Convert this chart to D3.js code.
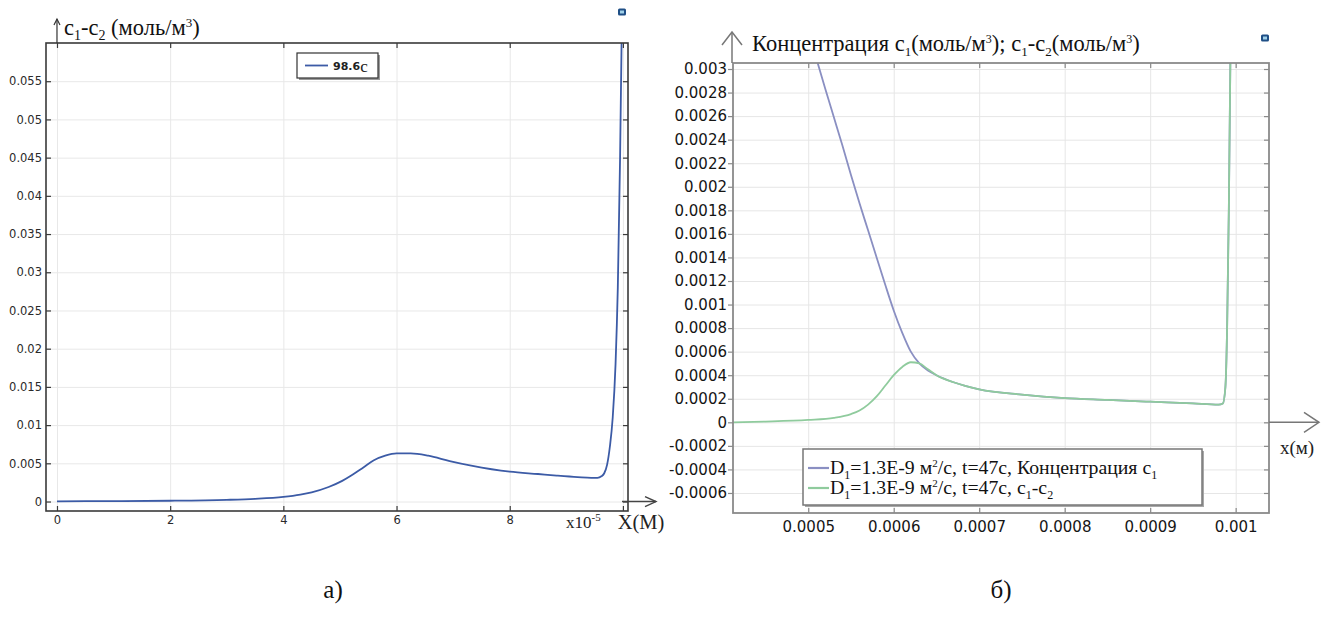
<!DOCTYPE html>
<html>
<head>
<meta charset="utf-8">
<script src="https://cdn.jsdelivr.net/npm/d3@7"></script>
<style>
  html, body { margin: 0; padding: 0; background: #fff; }
  svg { display: block; }
</style>
</head>
<body>
<svg id="chart" width="1333" height="619"></svg>
<script>
// ---------- Panel а): c1-c2 profile at t = 98.6 s (x in units of 1e-5 m) ----------
const leftX = [0, 1, 2, 3, 3.5, 4, 4.3, 4.5, 4.8, 5.04, 5.2, 5.42, 5.6, 5.8, 6.0, 6.25, 6.56, 6.94, 7.32, 8.0, 8.5, 8.83, 9.2, 9.44, 9.55, 9.62, 9.67, 9.72, 9.77, 9.82, 9.87, 9.91, 9.95, 9.98];
const leftC = [0.00003, 0.00006, 0.0001, 0.00022, 0.00035, 0.0006, 0.0009, 0.0012, 0.0019, 0.0027, 0.0034, 0.0045, 0.0054, 0.006, 0.0063, 0.0063, 0.006, 0.0053, 0.0047, 0.0039, 0.0036, 0.0034, 0.0032, 0.0031, 0.0031, 0.0033, 0.0037, 0.0048, 0.0072, 0.011, 0.018, 0.028, 0.045, 0.062];
const leftXTicks = [0, 2, 4, 6, 8, 10];
const leftXLabels = ["0", "2", "4", "6", "8", ""];
const leftYTicks = [0, 0.005, 0.01, 0.015, 0.02, 0.025, 0.03, 0.035, 0.04, 0.045, 0.05, 0.055];
const leftLegend = "98.6";

// ---------- Panel б): c1 and c1-c2 at t = 47 s, D1 = 1.3E-9 ----------
const blueX = [0.000505, 0.00052, 0.00053, 0.00054, 0.00055, 0.00056, 0.00057, 0.00058, 0.00059, 0.0006, 0.00061, 0.00062, 0.00063, 0.00064, 0.00065, 0.00067, 0.0007, 0.00075, 0.0008, 0.00085, 0.0009, 0.00095, 0.00098, 0.000985, 0.000988, 0.00099, 0.000992, 0.000994];
const blueC = [0.0032, 0.00283, 0.00259, 0.00235, 0.0021, 0.00186, 0.00163, 0.0014, 0.00117, 0.00095, 0.00076, 0.0006, 0.0005, 0.00044, 0.0004, 0.00034, 0.00028, 0.000235, 0.000205, 0.00019, 0.000175, 0.00016, 0.00015, 0.00016, 0.0003, 0.0008, 0.0018, 0.0032];
const greenX = [0.000412, 0.00045, 0.0005, 0.00053, 0.00055, 0.00056, 0.00057, 0.00058, 0.00059, 0.0006, 0.00061, 0.00062, 0.00063, 0.00064, 0.00065, 0.00067, 0.0007, 0.00075, 0.0008, 0.00085, 0.0009, 0.00095, 0.00098, 0.000985, 0.000988, 0.00099, 0.000992, 0.000994];
const greenC = [0.0, 0.000006, 0.00002, 0.000038, 0.00007, 0.0001, 0.00015, 0.00022, 0.00031, 0.0004, 0.00047, 0.00051, 0.0005, 0.00045, 0.0004, 0.00034, 0.00028, 0.000235, 0.000205, 0.00019, 0.000175, 0.00016, 0.00015, 0.00016, 0.0003, 0.0008, 0.0018, 0.0032];
const rightXTicks = [0.0005, 0.0006, 0.0007, 0.0008, 0.0009, 0.001];
const rightYTicks = [-0.0006, -0.0004, -0.0002, 0, 0.0002, 0.0004, 0.0006, 0.0008, 0.001, 0.0012, 0.0014, 0.0016, 0.0018, 0.002, 0.0022, 0.0024, 0.0026, 0.0028, 0.003];
const rightLegend = ["Концентрация с", "с", "-с"];

const serif = '"Liberation Serif","Times New Roman",serif';
const sans = '"DejaVu Sans",Verdana,sans-serif';
const svg = d3.select("#chart");
const defs = svg.append("defs");

function numLabel(d) { return String(+d.toFixed(5)); }

function arrowUp(g, x, y0, y1, w, h, color, sw) {
  g.append("line").attr("x1", x).attr("x2", x).attr("y1", y0).attr("y2", y1)
    .attr("stroke", color).attr("stroke-width", sw);
  g.append("path").attr("d", `M${x - w},${y1 + h}L${x},${y1}L${x + w},${y1 + h}`)
    .attr("fill", "none").attr("stroke", color).attr("stroke-width", sw);
}
function arrowRight(g, y, x0, x1, w, h, color, sw) {
  g.append("line").attr("x1", x0).attr("x2", x1).attr("y1", y).attr("y2", y)
    .attr("stroke", color).attr("stroke-width", sw);
  g.append("path").attr("d", `M${x1 - w},${y - h}L${x1},${y}L${x1 - w},${y + h}`)
    .attr("fill", "none").attr("stroke", color).attr("stroke-width", sw);
}
function icon(x, y) {
  svg.append("rect").attr("x", x - 4).attr("y", y - 3.5).attr("width", 8).attr("height", 7)
    .attr("rx", 1.5).attr("fill", "#1f4f86");
  svg.append("rect").attr("x", x - 2).attr("y", y - 1.5).attr("width", 4).attr("height", 3)
    .attr("fill", "#9fd0e8");
}

// ======================= Panel а) =======================
{
  const L = 46, R = 628, T = 43, B = 511;
  const x = d3.scaleLinear().domain([-0.194, 10.09]).range([L, R]);
  const y = d3.scaleLinear().domain([-0.00124, 0.06]).range([B, T]);
  const g = svg.append("g");

  // grid
  g.append("g").attr("transform", `translate(0,${B})`)
    .call(d3.axisBottom(x).tickValues(leftXTicks).tickSize(-(B - T)).tickFormat(""))
    .call(s => { s.select(".domain").remove(); s.selectAll("line").attr("stroke", "#e8e8e8"); });
  g.append("g").attr("transform", `translate(${L},0)`)
    .call(d3.axisLeft(y).tickValues(leftYTicks).tickSize(-(R - L)).tickFormat(""))
    .call(s => { s.select(".domain").remove(); s.selectAll("line").attr("stroke", "#e8e8e8"); });

  // curve
  defs.append("clipPath").attr("id", "clipL").append("rect")
    .attr("x", L).attr("y", T).attr("width", R - L).attr("height", B - T);
  const pts = leftX.map((v, i) => [v, leftC[i]]);
  g.append("path").datum(pts).attr("clip-path", "url(#clipL)")
    .attr("d", d3.line().x(d => x(d[0])).y(d => y(d[1])).curve(d3.curveMonotoneX))
    .attr("fill", "none").attr("stroke", "#3c5ba6").attr("stroke-width", 1.8);

  // frame
  g.append("rect").attr("x", L).attr("y", T).attr("width", R - L).attr("height", B - T)
    .attr("fill", "none").attr("stroke", "#3a3a3a").attr("stroke-width", 1.6);

  // inward ticks on all four sides
  const tickStyle = s => { s.select(".domain").remove(); s.selectAll("line").attr("stroke", "#3a3a3a").attr("stroke-width", 1.2); };
  g.append("g").attr("transform", `translate(${L},0)`)
    .call(d3.axisRight(y).tickValues(leftYTicks).tickSize(5).tickFormat("")).call(tickStyle);
  g.append("g").attr("transform", `translate(${R},0)`)
    .call(d3.axisLeft(y).tickValues(leftYTicks).tickSize(5).tickFormat("")).call(tickStyle);
  g.append("g").attr("transform", `translate(0,${B})`)
    .call(d3.axisTop(x).tickValues(leftXTicks).tickSize(5).tickFormat("")).call(tickStyle);
  g.append("g").attr("transform", `translate(0,${T})`)
    .call(d3.axisBottom(x).tickValues(leftXTicks).tickSize(5).tickFormat("")).call(tickStyle);

  // labels
  const labStyle = s => {
    s.select(".domain").remove(); s.selectAll("line").remove();
    s.selectAll("text").attr("font-family", sans).attr("font-size", 11.5).attr("fill", "#2a2a2a");
  };
  g.append("g").attr("transform", `translate(${L},0)`)
    .call(d3.axisLeft(y).tickValues(leftYTicks).tickSize(0).tickPadding(4).tickFormat(numLabel)).call(labStyle);
  g.append("g").attr("transform", `translate(0,${B})`)
    .call(d3.axisBottom(x).tickValues(leftXTicks).tickSize(0).tickPadding(5).tickFormat((d, i) => leftXLabels[i])).call(labStyle);

  // axis arrows
  arrowUp(g, x(0), T, 19, 3, 6, "#333", 1.2);
  arrowRight(g, y(0), R - 6, 656, 11, 5, "#444", 1.4);

  // title
  const t = g.append("text").attr("x", 64).attr("y", 35).attr("font-family", serif)
    .attr("font-size", 22.5).attr("fill", "#111");
  t.append("tspan").text("c");
  t.append("tspan").attr("dy", 5).attr("font-size", 14).text("1");
  t.append("tspan").attr("dy", -5).text("-c");
  t.append("tspan").attr("dy", 5).attr("font-size", 14).text("2");
  t.append("tspan").attr("dy", -5).text(" (моль/м");
  t.append("tspan").attr("dy", -8).attr("font-size", 13).text("3");
  t.append("tspan").attr("dy", 8).text(")");

  // x multiplier and axis name
  const m = g.append("text").attr("x", 566).attr("y", 528).attr("font-family", serif)
    .attr("font-size", 17).attr("fill", "#222");
  m.append("tspan").text("x10");
  m.append("tspan").attr("dy", -7).attr("font-size", 11).text("-5");
  g.append("text").attr("x", 641).attr("y", 529).attr("text-anchor", "middle")
    .attr("font-family", serif).attr("font-size", 20.5).attr("fill", "#222").text("X(М)");

  // legend
  g.append("rect").attr("x", 299).attr("y", 55).attr("width", 81).attr("height", 25).attr("fill", "#9a9a9a");
  g.append("rect").attr("x", 297).attr("y", 53).attr("width", 81).attr("height", 25)
    .attr("fill", "#fff").attr("stroke", "#333").attr("stroke-width", 1.2);
  g.append("line").attr("x1", 305).attr("x2", 328).attr("y1", 65.5).attr("y2", 65.5)
    .attr("stroke", "#3c5ba6").attr("stroke-width", 1.8);
  const lt = g.append("text").attr("x", 333).attr("y", 70).attr("fill", "#222");
  lt.append("tspan").attr("font-family", sans).attr("font-size", 11).attr("font-weight", "bold").text(leftLegend);
  lt.append("tspan").attr("font-family", serif).attr("font-size", 17).attr("dy", 2).text("с");
}

// ======================= Panel б) =======================
{
  const L = 733, R = 1269, T = 63, B = 513;
  const x = d3.scaleLinear().domain([0.000412, 0.001039]).range([L, R]);
  const y = d3.scaleLinear().domain([-0.00077, 0.003051]).range([B, T]);
  const g = svg.append("g");

  g.append("g").attr("transform", `translate(0,${B})`)
    .call(d3.axisBottom(x).tickValues(rightXTicks).tickSize(-(B - T)).tickFormat(""))
    .call(s => { s.select(".domain").remove(); s.selectAll("line").attr("stroke", "#e6e6e6"); });
  g.append("g").attr("transform", `translate(${L},0)`)
    .call(d3.axisLeft(y).tickValues(rightYTicks).tickSize(-(R - L)).tickFormat(""))
    .call(s => { s.select(".domain").remove(); s.selectAll("line").attr("stroke", "#e6e6e6"); });

  defs.append("clipPath").attr("id", "clipR").append("rect")
    .attr("x", L).attr("y", T).attr("width", R - L).attr("height", B - T);
  const line = d3.line().x(d => x(d[0])).y(d => y(d[1])).curve(d3.curveMonotoneX);
  g.append("path").datum(blueX.map((v, i) => [v, blueC[i]])).attr("clip-path", "url(#clipR)")
    .attr("d", line).attr("fill", "none").attr("stroke", "#8a8fc2").attr("stroke-width", 1.8);
  g.append("path").datum(greenX.map((v, i) => [v, greenC[i]])).attr("clip-path", "url(#clipR)")
    .attr("d", line).attr("fill", "none").attr("stroke", "#8fcb9d").attr("stroke-width", 1.8);

  g.append("rect").attr("x", L).attr("y", T).attr("width", R - L).attr("height", B - T)
    .attr("fill", "none").attr("stroke", "#8a8a8a").attr("stroke-width", 1.8);

  const tickStyle = s => { s.select(".domain").remove(); s.selectAll("line").attr("stroke", "#8a8a8a").attr("stroke-width", 1.2); };
  g.append("g").attr("transform", `translate(${L},0)`)
    .call(d3.axisLeft(y).tickValues(rightYTicks).tickSize(5).tickFormat("")).call(tickStyle);
  g.append("g").attr("transform", `translate(${R},0)`)
    .call(d3.axisLeft(y).tickValues(rightYTicks).tickSize(5).tickFormat("")).call(tickStyle);
  g.append("g").attr("transform", `translate(0,${B})`)
    .call(d3.axisTop(x).tickValues(rightXTicks).tickSize(5).tickFormat("")).call(tickStyle);
  g.append("g").attr("transform", `translate(0,${T})`)
    .call(d3.axisBottom(x).tickValues(rightXTicks).tickSize(5).tickFormat("")).call(tickStyle);

  const labStyle = s => {
    s.select(".domain").remove(); s.selectAll("line").remove();
    s.selectAll("text").attr("font-family", sans).attr("font-size", 15).attr("fill", "#151515");
  };
  g.append("g").attr("transform", `translate(${L},0)`)
    .call(d3.axisLeft(y).tickValues(rightYTicks).tickSize(0).tickPadding(6).tickFormat(numLabel)).call(labStyle);
  g.append("g").attr("transform", `translate(0,${B})`)
    .call(d3.axisBottom(x).tickValues(rightXTicks).tickSize(0).tickPadding(8).tickFormat(numLabel)).call(labStyle);

  arrowUp(g, L - 1, T, 32, 10, 13, "#777", 1.5);
  arrowRight(g, y(0), R, 1319, 15, 10, "#777", 1.5);

  // title
  const t = g.append("text").attr("x", 752).attr("y", 51).attr("font-family", serif)
    .attr("font-size", 22.5).attr("fill", "#111");
  t.append("tspan").text("Концентрация c");
  t.append("tspan").attr("dy", 5).attr("font-size", 13).text("1");
  t.append("tspan").attr("dy", -5).text("(моль/м");
  t.append("tspan").attr("dy", -8).attr("font-size", 12).text("3");
  t.append("tspan").attr("dy", 8).text("); c");
  t.append("tspan").attr("dy", 5).attr("font-size", 13).text("1");
  t.append("tspan").attr("dy", -5).text("-c");
  t.append("tspan").attr("dy", 5).attr("font-size", 13).text("2");
  t.append("tspan").attr("dy", -5).text("(моль/м");
  t.append("tspan").attr("dy", -8).attr("font-size", 12).text("3");
  t.append("tspan").attr("dy", 8).text(")");

  g.append("text").attr("x", 1297).attr("y", 454).attr("text-anchor", "middle")
    .attr("font-family", serif).attr("font-size", 19).attr("fill", "#222").text("x(м)");

  // legend
  g.append("rect").attr("x", 805).attr("y", 451).attr("width", 399).attr("height", 56).attr("fill", "#a8a8a8");
  g.append("rect").attr("x", 803).attr("y", 449).attr("width", 399).attr("height", 56)
    .attr("fill", "#fff").attr("stroke", "#777").attr("stroke-width", 1.5);
  const rows = [
    { color: "#8a8fc2", y: 474, tail: t2 => { t2.append("tspan").text(", " + rightLegend[0]); t2.append("tspan").attr("dy", 5).attr("font-size", 12).text("1"); } },
    { color: "#8fcb9d", y: 494, tail: t2 => {
        t2.append("tspan").text(", " + rightLegend[1]);
        t2.append("tspan").attr("dy", 5).attr("font-size", 12).text("1");
        t2.append("tspan").attr("dy", -5).text(rightLegend[2]);
        t2.append("tspan").attr("dy", 5).attr("font-size", 12).text("2"); } }
  ];
  rows.forEach(r => {
    g.append("line").attr("x1", 808).attr("x2", 829).attr("y1", r.y - 6).attr("y2", r.y - 6)
      .attr("stroke", r.color).attr("stroke-width", 2.2);
    const tx = g.append("text").attr("x", 830).attr("y", r.y).attr("font-family", serif)
      .attr("font-size", 19.8).attr("fill", "#111");
    tx.append("tspan").text("D");
    tx.append("tspan").attr("dy", 5).attr("font-size", 12).text("1");
    tx.append("tspan").attr("dy", -5).text("=1.3E-9 м");
    tx.append("tspan").attr("dy", -7).attr("font-size", 11).text("2");
    tx.append("tspan").attr("dy", 7).text("/с, t=47с");
    r.tail(tx);
  });
}

icon(622, 12);
icon(1265, 38);

// panel captions
svg.append("text").attr("x", 333).attr("y", 598).attr("text-anchor", "middle")
  .attr("font-family", serif).attr("font-size", 25).attr("fill", "#111").text("а)");
svg.append("text").attr("x", 1001).attr("y", 598).attr("text-anchor", "middle")
  .attr("font-family", serif).attr("font-size", 25).attr("fill", "#111").text("б)");
</script>
</body>
</html>
